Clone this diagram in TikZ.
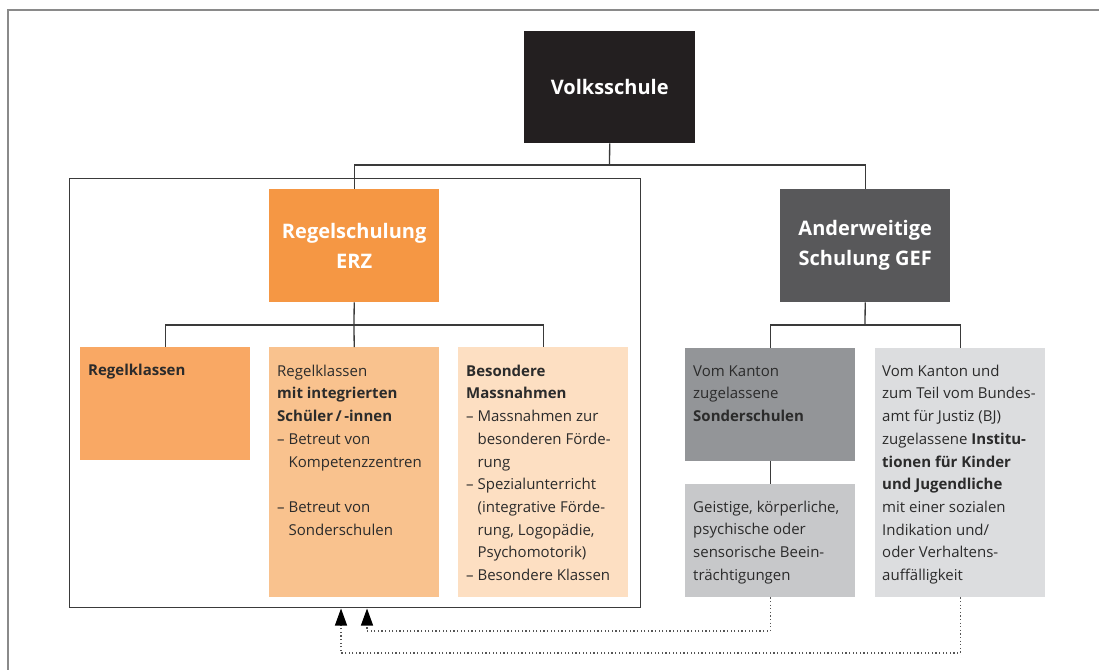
\documentclass[tikz,border=0pt]{standalone}
\usepackage{fontspec}
\setmainfont{Open Sans}
\usetikzlibrary{arrows.meta}
\definecolor{cvolks}{HTML}{231F20}
\definecolor{cregel}{HTML}{F59744}
\definecolor{cklass}{HTML}{F9A864}
\definecolor{cinteg}{HTML}{F9C28E}
\definecolor{cbes}{HTML}{FDDFC2}
\definecolor{cander}{HTML}{58585A}
\definecolor{csonder}{HTML}{939598}
\definecolor{cgeist}{HTML}{C7C8CA}
\definecolor{cinst}{HTML}{DCDDDF}
\definecolor{ctext}{HTML}{2B2B2B}
\definecolor{cline}{HTML}{3A3A3A}
\definecolor{couter}{HTML}{8A8A8A}
\definecolor{cdot}{HTML}{555555}
\newcommand{\firststrut}{\rule{0pt}{15pt}}
\begin{document}
\begin{tikzpicture}[x=1pt,y=-1pt,
  box/.style={draw=none, inner sep=0pt, anchor=north west, minimum width=170pt, minimum height=113pt},
  tall/.style={box, minimum height=250pt},
  title/.style={text=white, font=\fontsize{20}{30}\selectfont\bfseries, align=center},
  txt/.style={text=ctext, font=\fontsize{15}{22.7}\selectfont, align=left, anchor=north west, inner sep=0pt},
  conn/.style={draw=cline, line width=1.3pt},
  dotline/.style={draw=cdot, line width=1.2pt, dash pattern=on 1.2pt off 2.4pt, -{Triangle[width=12pt,length=17pt,fill=black,color=black]}}
]
\useasboundingbox (0,0) rectangle (1099,670);
% outer frame (only top and left visible)
\draw[couter, line width=2pt] (1099,10) -- (8,10) -- (8,670);
% inner frame
\node[draw=cline, line width=1.4pt, inner sep=0pt, anchor=north west, minimum width=571pt, minimum height=429pt] (frame) at (69,178) {};
% main boxes
\node[box, fill=cvolks, minimum width=171pt, minimum height=112pt, title] (volks) at (524,31) {Volksschule};
\node[box, fill=cregel, title] (regel) at (269,189) {Regelschulung\\ERZ};
\node[box, fill=cander, title] (ander) at (780,189) {Anderweitige\\Schulung GEF};
% sub boxes
\node[box, fill=cklass] (b11) at (80,347) {};
\node[tall, fill=cinteg] (b12) at (269,347) {};
\node[tall, fill=cbes] (b13) at (458,347) {};
\node[box, fill=csonder] (b21) at (685,348) {};
\node[box, fill=cgeist] (b22) at (685,484) {};
\node[tall, minimum height=249pt, fill=cinst] (b3) at (875,348) {};
% texts (node top = first baseline - 15)
\node[txt] (t11) at (88,360) {\firststrut\textbf{Regelklassen}};
\node[txt] (t12) at (277,361) {\firststrut Regelklassen\\\textbf{mit integrierten}\\\textbf{Schüler\,/\,-innen}\\– Betreut von\\\hphantom{– }Kompetenzzentren\\[22.7pt]– Betreut von\\\hphantom{– }Sonderschulen};
\node[txt] (t13) at (466,361) {\firststrut\textbf{Besondere}\\\textbf{Massnahmen}\\– Massnahmen zur\\\hphantom{– }besonderen Förde-\\\hphantom{– }rung\\– Spezialunterricht\\\hphantom{– }(integrative Förde-\\\hphantom{– }rung, Logopädie,\\\hphantom{– }Psychomotorik)\\– Besondere Klassen};
\node[txt] (t21) at (693,361) {\firststrut Vom Kanton\\zugelassene\\\textbf{Sonderschulen}};
\node[txt] (t22) at (693,497) {\firststrut Geistige, körperliche,\\psychische oder\\sensorische Beein-\\trächtigungen};
\node[txt] (t3) at (882,361) {\firststrut Vom Kanton und\\zum Teil vom Bundes-\\amt für Justiz (BJ)\\zugelassene \textbf{Institu-}\\\textbf{tionen für Kinder}\\\textbf{und Jugendliche}\\mit einer sozialen\\Indikation und/\\oder Verhaltens-\\auffälligkeit};
% junctions
\coordinate (j1) at (609.5,165);
\coordinate (j2) at (354,325);
\coordinate (j3) at (865,325);
\draw[conn] (volks.south) -- (j1);
\draw[conn] (j1) -| (regel.north);
\draw[conn] (j1) -| (ander.north);
\draw[conn] (regel.south) -- (j2);
\draw[conn] (j2) -| (b11.north);
\draw[conn] (j2) -- (b12.north);
\draw[conn] (j2) -| (b13.north);
\draw[conn] (ander.south) -- (j3);
\draw[conn] (j3) -| (b21.north);
\draw[conn] (j3) -| (b3.north);
\draw[conn] (b21.south) -- (b22.north);
% dotted return arrows
\coordinate (c1) at (367,631);
\coordinate (a1) at (367,608.5);
\coordinate (c2) at (341,653);
\coordinate (a2) at (341,608.5);
\draw[dotline] (b22.south) |- (c1) -- (a1);
\draw[dotline] (b3.south) |- (c2) -- (a2);
\end{tikzpicture}
\end{document}
